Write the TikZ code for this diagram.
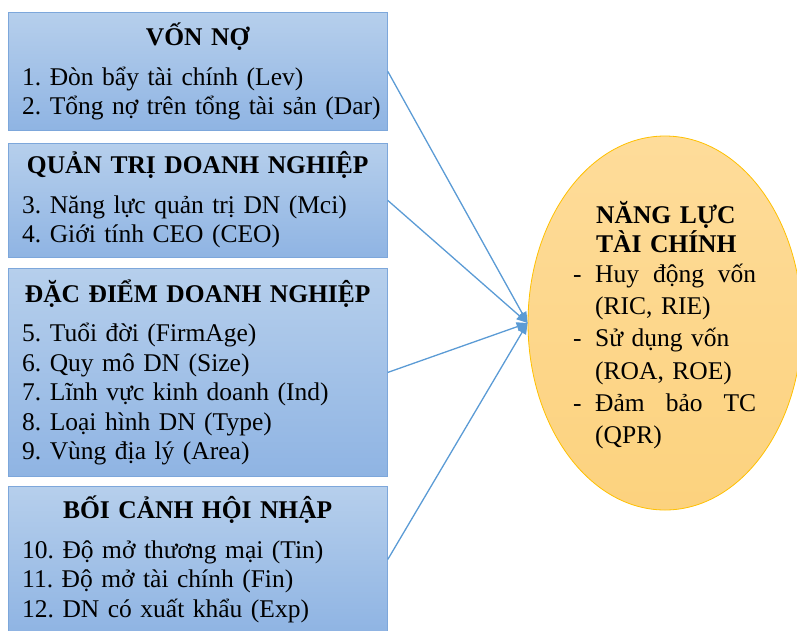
\documentclass[tikz,border=0pt]{standalone}
\usepackage{fontspec}
\setmainfont{Liberation Serif}
\usepackage{tikz}
\usetikzlibrary{arrows.meta, shapes.geometric}
\frenchspacing
\definecolor{boxtop}{HTML}{B6CFEC}
\definecolor{boxbottom}{HTML}{8FB4E3}
\definecolor{boxline}{HTML}{7DA7DB}
\definecolor{arrowblue}{HTML}{5B9BD5}
\definecolor{goaltop}{HTML}{FEDC9A}
\definecolor{goalbottom}{HTML}{FCD27E}
\definecolor{goalline}{HTML}{FFC000}
\newcommand{\bodyfont}{\rmfamily\fontsize{25.5}{29.5}\selectfont}
\newcommand{\boxtitle}[1]{\hbox to 351pt{\hfil\bfseries #1\hfil}}
\newcommand{\spreadline}[3]{\hbox to 161pt{#1\hfill #2\hfill #3}}
\tikzset{
  factor/.style={rectangle, draw=boxline, line width=0.8pt, top color=boxtop, bottom color=boxbottom,
    minimum width=379pt, anchor=north west, inner sep=0pt},
  factortext/.style={anchor=base west, text width=365pt, align=left, inner sep=0pt, font=\bodyfont},
  goal/.style={ellipse, draw=goalline, line width=0.8pt, top color=goaltop, bottom color=goalbottom,
    minimum width=274pt, minimum height=374pt, inner sep=0pt},
  goaltext/.style={anchor=base west, text width=200pt, align=left, inner sep=0pt, font=\bodyfont},
  link/.style={draw=arrowblue, line width=1.3pt, -{Triangle[length=11pt,width=9pt]}},
}

\begin{document}
\begin{tikzpicture}[x=1pt, y=-1pt]
  \useasboundingbox (0,0) rectangle (797,630);

  % Factor boxes
  \node[factor, minimum height=118pt] (f1) at (8,12) {};
  \node[factortext] (f1txt) at (22,45) {\boxtitle{VỐN NỢ}\\[10.5pt]
    1. Đòn bẩy tài chính (Lev)\\
    2. Tổng nợ trên tổng tài sản (Dar)};

  \node[factor, minimum height=114pt] (f2) at (8,143) {};
  \node[factortext] (f2txt) at (22,173) {\boxtitle{QUẢN TRỊ DOANH NGHIỆP}\\[10.5pt]
    3. Năng lực quản trị DN (Mci)\\
    4. Giới tính CEO (CEO)};

  \node[factor, minimum height=208pt] (f3) at (8,268) {};
  \node[factortext] (f3txt) at (22,302) {\boxtitle{ĐẶC ĐIỂM DOANH NGHIỆP}\\[10pt]
    5. Tuổi đời (FirmAge)\\
    6. Quy mô DN (Size)\\
    7. Lĩnh vực kinh doanh (Ind)\\
    8. Loại hình DN (Type)\\
    9. Vùng địa lý (Area)};

  \node[factor, minimum height=146pt] (f4) at (8,486) {};
  \node[factortext] (f4txt) at (22,518) {\boxtitle{BỐI CẢNH HỘI NHẬP}\\[10.5pt]
    10. Độ mở thương mại (Tin)\\
    11. Độ mở tài chính (Fin)\\
    12. DN có xuất khẩu (Exp)};

  % Outcome
  \node[goal] (nlc) at (665,323) {};
  \node[goaltext] (nlctxt) at (573,223) {\hspace*{23pt}\textbf{NĂNG LỰC}\\
    \hspace*{23pt}\textbf{TÀI CHÍNH}\\[0.5pt]
    \makebox[22pt][l]{-}\spreadline{Huy}{động}{vốn}\\[2.7pt]
    \hspace*{22pt}(RIC, RIE)\\[2.7pt]
    \makebox[22pt][l]{-}Sử dụng vốn\\[2.7pt]
    \hspace*{22pt}(ROA, ROE)\\[2.7pt]
    \makebox[22pt][l]{-}\spreadline{Đảm}{bảo}{TC}\\[2.7pt]
    \hspace*{22pt}(QPR)};

  % Links
  \draw[link] (f1.east) -- (nlc.west);
  \draw[link] (f2.east) -- (nlc.west);
  \draw[link] (f3.east) -- (nlc.west);
  \draw[link] (f4.east) -- (nlc.west);
\end{tikzpicture}
\end{document}
